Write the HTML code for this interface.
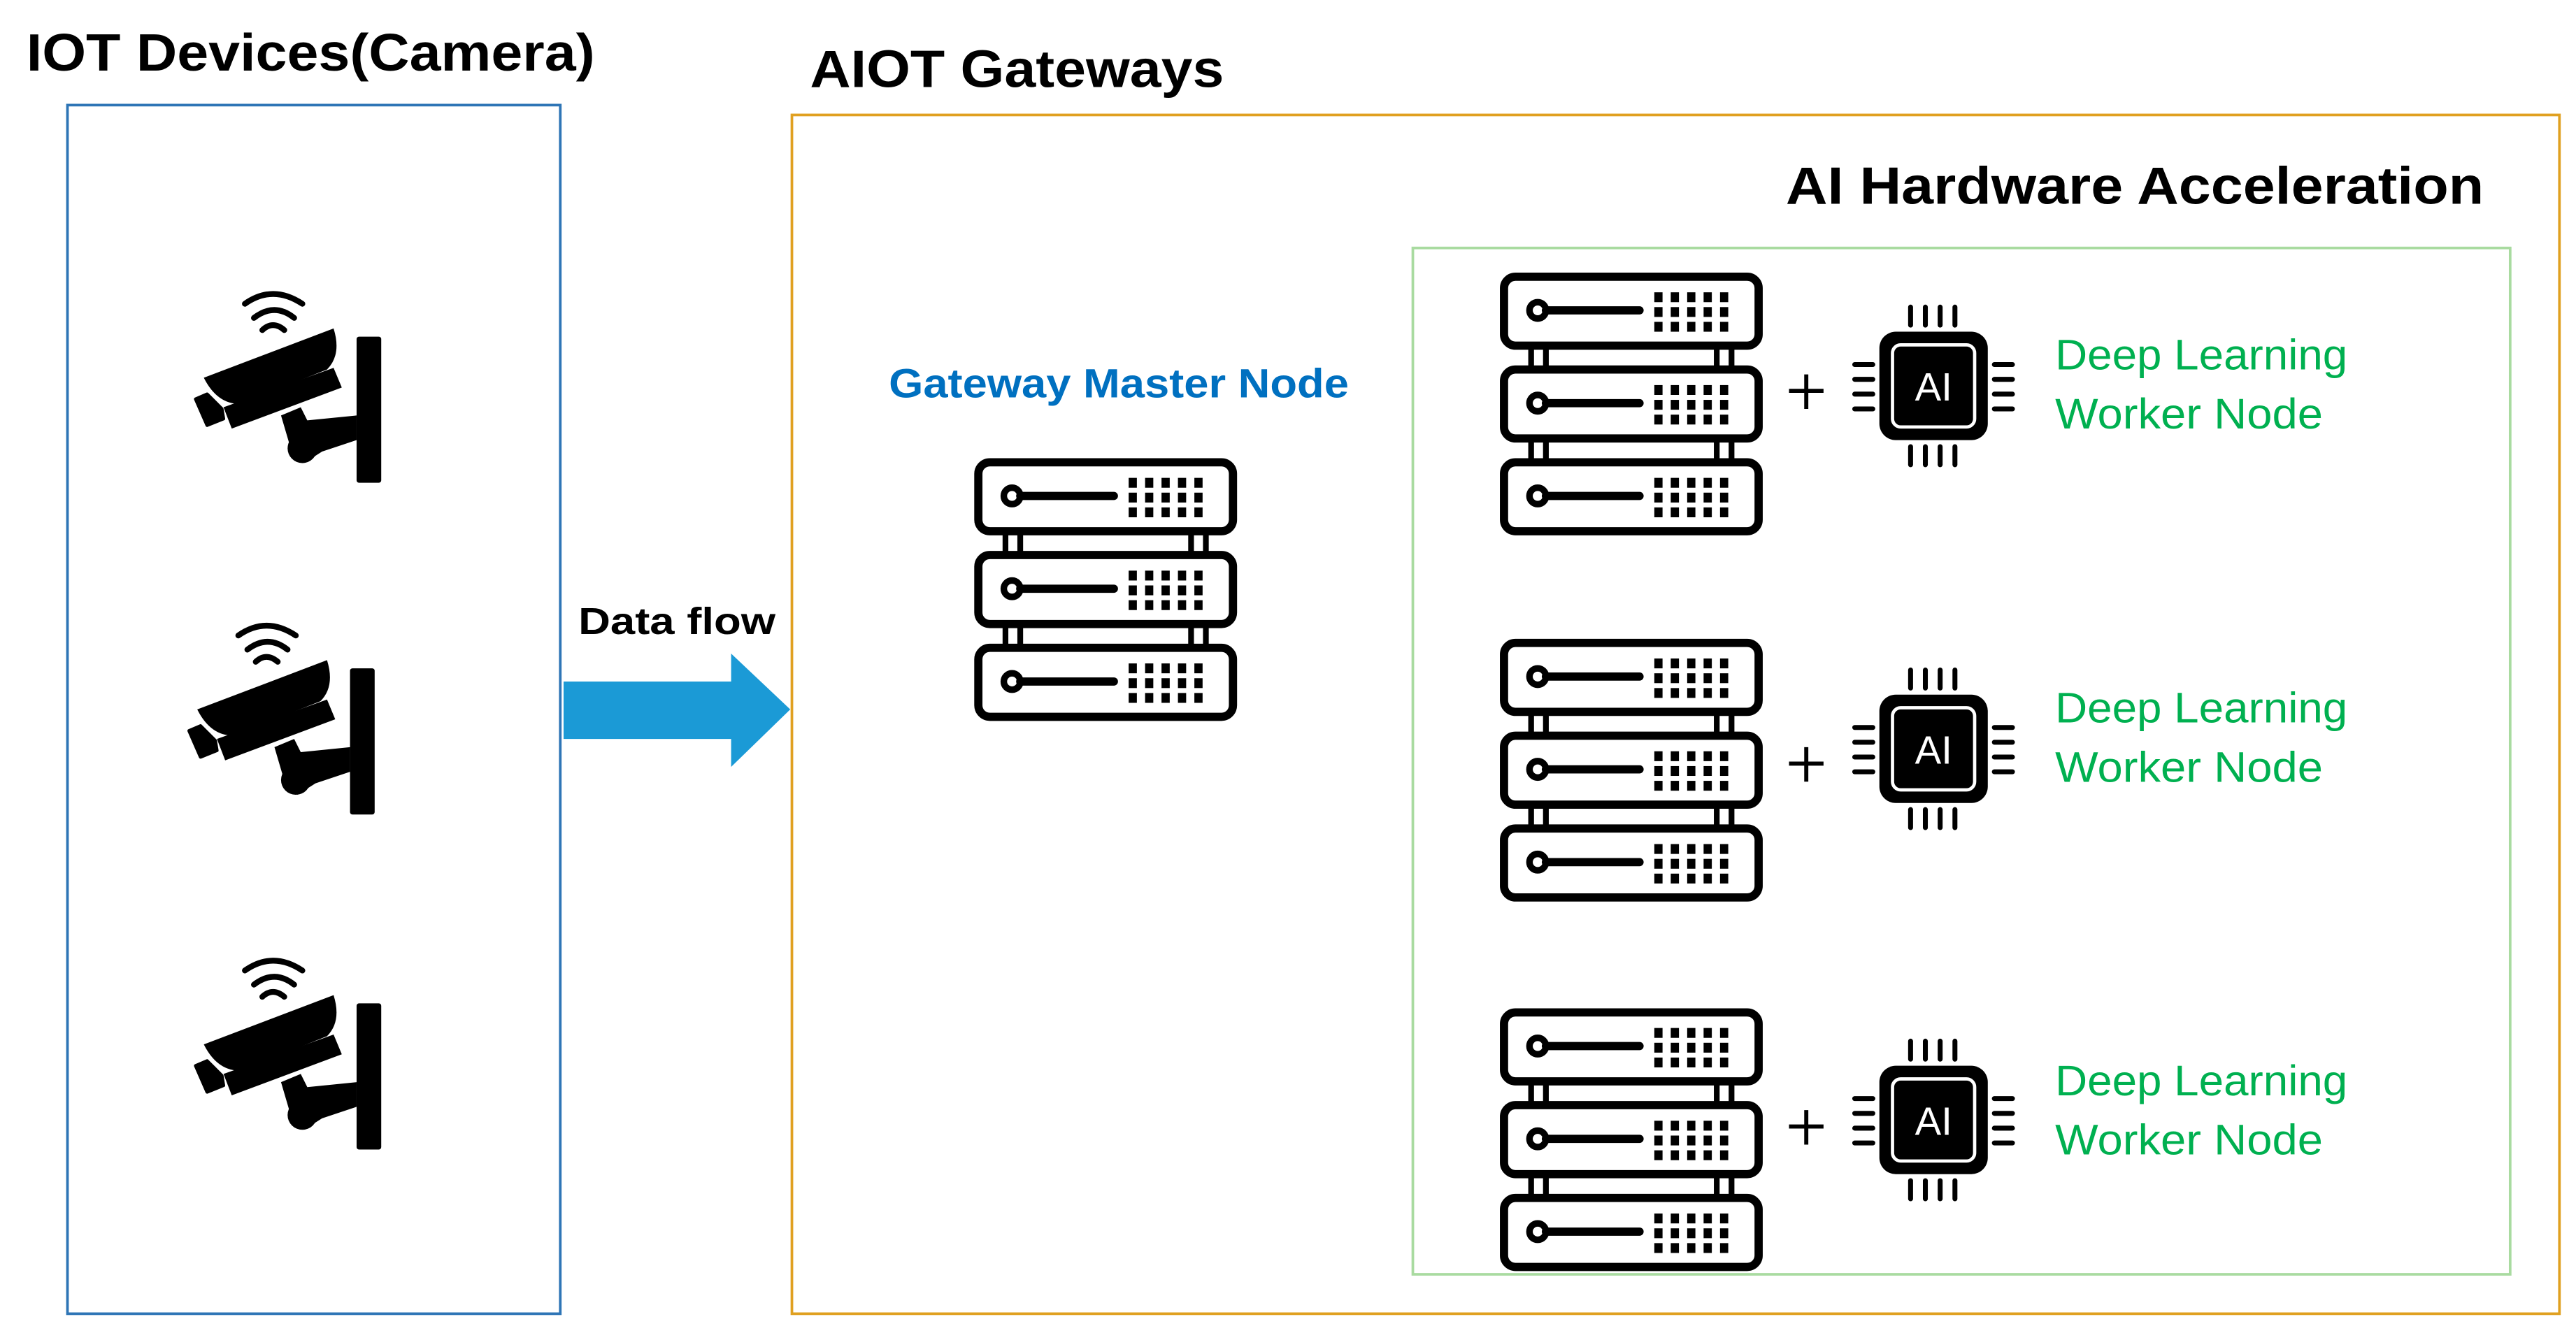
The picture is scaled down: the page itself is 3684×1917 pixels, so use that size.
<!DOCTYPE html>
<html><head><meta charset="utf-8"><style>html,body{margin:0;padding:0;background:#fff}svg{display:block}</style></head>
<body>
<svg width="3684" height="1917" viewBox="0 0 1568 816" xmlns="http://www.w3.org/2000/svg" font-family="Liberation Sans, sans-serif" font-weight="bold">
<defs>
<g id="srv">
  <g fill="none" stroke="#000" stroke-width="5">
    <rect x="2.5" y="2.5" width="155" height="42" rx="7"/>
    <rect x="2.5" y="59" width="155" height="42" rx="7"/>
    <rect x="2.5" y="115.5" width="155" height="42" rx="7"/>
  </g>
  <g stroke="#000" stroke-width="3.5">
    <line x1="19" y1="45" x2="19" y2="59"/><line x1="28" y1="45" x2="28" y2="59"/>
    <line x1="132" y1="45" x2="132" y2="59"/><line x1="141" y1="45" x2="141" y2="59"/>
    <line x1="19" y1="101" x2="19" y2="115"/><line x1="28" y1="101" x2="28" y2="115"/>
    <line x1="132" y1="101" x2="132" y2="115"/><line x1="141" y1="101" x2="141" y2="115"/>
  </g>
  <g id="unit">
    <circle cx="23" cy="23" r="5" fill="none" stroke="#000" stroke-width="4"/>
    <line x1="28" y1="23" x2="85" y2="23" stroke="#000" stroke-width="5" stroke-linecap="round"/>
    <g fill="#000">
      <rect x="94" y="12" width="5" height="6"/><rect x="104" y="12" width="5" height="6"/><rect x="114" y="12" width="5" height="6"/><rect x="124" y="12" width="5" height="6"/><rect x="134" y="12" width="5" height="6"/>
      <rect x="94" y="21" width="5" height="6"/><rect x="104" y="21" width="5" height="6"/><rect x="114" y="21" width="5" height="6"/><rect x="124" y="21" width="5" height="6"/><rect x="134" y="21" width="5" height="6"/>
      <rect x="94" y="30" width="5" height="6"/><rect x="104" y="30" width="5" height="6"/><rect x="114" y="30" width="5" height="6"/><rect x="124" y="30" width="5" height="6"/><rect x="134" y="30" width="5" height="6"/>
    </g>
  </g>
  <use href="#unit" y="56.5"/>
  <use href="#unit" y="113"/>
</g>
<g id="chip">
  <rect x="17" y="17" width="66" height="66" rx="10" fill="#000"/>
  <rect x="25" y="25" width="50" height="50" rx="5" fill="#000" stroke="#fff" stroke-width="2"/>
  <text x="50" y="59" font-size="24" font-weight="normal" fill="#fff" text-anchor="middle">AI</text>
  <g stroke="#000" stroke-width="3" stroke-linecap="round">
    <line x1="36" y1="2" x2="36" y2="13"/><line x1="45" y1="2" x2="45" y2="13"/><line x1="54" y1="2" x2="54" y2="13"/><line x1="63" y1="2" x2="63" y2="13"/>
    <line x1="36" y1="87" x2="36" y2="98"/><line x1="45" y1="87" x2="45" y2="98"/><line x1="54" y1="87" x2="54" y2="98"/><line x1="63" y1="87" x2="63" y2="98"/>
    <line x1="2" y1="37" x2="13" y2="37"/><line x1="2" y1="46" x2="13" y2="46"/><line x1="2" y1="55" x2="13" y2="55"/><line x1="2" y1="64" x2="13" y2="64"/>
    <line x1="87" y1="37" x2="98" y2="37"/><line x1="87" y1="46" x2="98" y2="46"/><line x1="87" y1="55" x2="98" y2="55"/><line x1="87" y1="64" x2="98" y2="64"/>
  </g>
</g>
<g id="cam">
  <path d="M124,230 L203,200 Q208,216 199,225 L146,246 Q132,246 124,230 Z" fill="#000"/>
  <polygon points="136,248 203,224 208,236 141,261" fill="#000"/>
  <polygon points="119,243 126,240 135,249 136,255 126,259" fill="#000" stroke="#000" stroke-width="2" stroke-linejoin="round"/>
  <polygon points="171,253 183,248 187,256 217,253 217,268 196,275 185,282 176,270" fill="#000"/>
  <circle cx="184" cy="273" r="9" fill="#000"/>
  <rect x="217" y="205" width="15" height="89" rx="1.5" fill="#000"/>
  <g fill="none" stroke="#000" stroke-width="3.5" stroke-linecap="round">
    <path d="M149,185 Q166,173 184,185"/>
    <path d="M154.5,193.6 Q167,184 179,193.6"/>
    <path d="M159.6,201 Q166,195 173,201"/>
  </g>
</g>
</defs>

<rect x="41" y="64" width="300" height="736" fill="none" stroke="#2e75b6" stroke-width="1.6"/>
<rect x="482" y="70" width="1076" height="730" fill="none" stroke="#e0a020" stroke-width="1.6"/>
<rect x="860" y="151" width="668" height="625" fill="none" stroke="#a9dba0" stroke-width="1.6"/>

<text x="16" y="43" font-size="32" textLength="346" lengthAdjust="spacingAndGlyphs">IOT Devices(Camera)</text>
<text x="493" y="53" font-size="32" textLength="252" lengthAdjust="spacingAndGlyphs">AIOT Gateways</text>
<text x="1087" y="124" font-size="32" textLength="425" lengthAdjust="spacingAndGlyphs">AI Hardware Acceleration</text>
<text x="541" y="242" font-size="25" fill="#0070c0" textLength="280" lengthAdjust="spacingAndGlyphs">Gateway Master Node</text>
<text x="352" y="386" font-size="23" textLength="120" lengthAdjust="spacingAndGlyphs">Data flow</text>

<polygon points="343,415 445,415 445,398 481,432 445,467 445,450 343,450" fill="#1b9ad6"/>

<use href="#cam"/>
<use href="#cam" x="-4" y="202"/>
<use href="#cam" y="406"/>

<use href="#srv" x="913" y="166"/>
<use href="#srv" x="593" y="279"/>
<use href="#srv" x="913" y="389"/>
<use href="#srv" x="913" y="614"/>

<g stroke="#000" stroke-width="2.5">
  <line x1="1089" y1="238" x2="1110" y2="238"/><line x1="1099.5" y1="228" x2="1099.5" y2="249"/>
  <line x1="1089" y1="465" x2="1110" y2="465"/><line x1="1099.5" y1="455" x2="1099.5" y2="476"/>
  <line x1="1089" y1="686" x2="1110" y2="686"/><line x1="1099.5" y1="676" x2="1099.5" y2="697"/>
</g>

<use href="#chip" x="1127" y="185"/>
<use href="#chip" x="1127" y="406"/>
<use href="#chip" x="1127" y="632"/>

<g font-size="26" font-weight="normal" fill="#00b050">
  <text x="1251" y="225" textLength="178" lengthAdjust="spacingAndGlyphs">Deep Learning</text>
  <text x="1251" y="261" textLength="163" lengthAdjust="spacingAndGlyphs">Worker Node</text>
  <text x="1251" y="440" textLength="178" lengthAdjust="spacingAndGlyphs">Deep Learning</text>
  <text x="1251" y="476" textLength="163" lengthAdjust="spacingAndGlyphs">Worker Node</text>
  <text x="1251" y="667" textLength="178" lengthAdjust="spacingAndGlyphs">Deep Learning</text>
  <text x="1251" y="703" textLength="163" lengthAdjust="spacingAndGlyphs">Worker Node</text>
</g>
</svg>
</body></html>
